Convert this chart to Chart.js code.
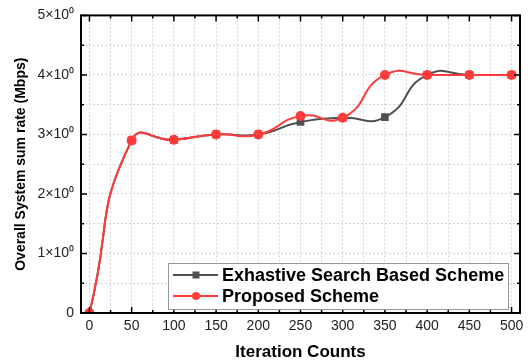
<!DOCTYPE html>
<html>
<head>
<meta charset="utf-8">
<script src="https://cdn.jsdelivr.net/npm/chart.js@4.4.0/dist/chart.umd.min.js"></script>
<style>
  html, body { margin: 0; padding: 0; background: #fff; }
  #wrap { width: 531px; height: 363px; }
</style>
</head>
<body>
<div id="wrap"><canvas id="rateChart" width="531" height="363"></canvas></div>
<script>
// iteration counts (x values)
const iterations = [0, 50, 100, 150, 200, 250, 300, 350, 400, 450, 500];
// sum rate values
const exhaustiveRate = [0, 2.9, 2.91, 3.0, 3.0, 3.21, 3.28, 3.29, 4.0, 4.0, 4.0];
const proposedRate = [0, 2.9, 2.91, 3.0, 3.0, 3.31, 3.28, 4.0, 4.0, 4.0, 4.0];
const seriesNames = ["Exhastive Search Based Scheme", "Proposed Scheme"];
const xTicks = [0, 50, 100, 150, 200, 250, 300, 350, 400, 450, 500];
const yTicks = [0, 1, 2, 3, 4, 5];

const FONT = "'Liberation Sans', Arial, sans-serif";
const GRAY = "#505050";
const RED = "#ff3b3b";

function toPoints(ys) {
  return iterations.map((x, i) => ({ x: x, y: ys[i] }));
}

// frame with inward ticks on all four sides + legend box in the corner
const framePlugin = {
  id: "frame",
  afterDatasetsDraw(chart) {
    const { ctx, chartArea: a, scales } = chart;
    const xs = scales.x, ys = scales.y;
    ctx.save();
    ctx.strokeStyle = "#000";
    ctx.lineWidth = 2;
    ctx.strokeRect(a.left, a.top, a.right - a.left, a.bottom - a.top);
    ctx.lineWidth = 1.5;
    ctx.beginPath();
    for (let v = 0; v <= 500; v += 25) {
      const px = xs.getPixelForValue(v);
      const len = v % 50 === 0 ? 6 : 3;
      ctx.moveTo(px, a.bottom); ctx.lineTo(px, a.bottom - len);
      ctx.moveTo(px, a.top); ctx.lineTo(px, a.top + len);
    }
    for (let v = 0; v <= 5; v += 0.5) {
      const py = ys.getPixelForValue(v);
      const len = Number.isInteger(v) ? 6 : 3;
      ctx.moveTo(a.left, py); ctx.lineTo(a.left + len, py);
      ctx.moveTo(a.right, py); ctx.lineTo(a.right - len, py);
    }
    ctx.stroke();

    // legend
    const lx = 168, ly = 263, lw = 340, lh = 46;
    ctx.fillStyle = "#fff";
    ctx.fillRect(lx, ly, lw, lh);
    ctx.strokeStyle = "#999";
    ctx.lineWidth = 1;
    ctx.strokeRect(lx + 0.5, ly + 0.5, lw, lh);
    const rows = [
      { name: seriesNames[0], color: GRAY, shape: "rect" },
      { name: seriesNames[1], color: RED, shape: "circle" }
    ];
    ctx.font = "bold 18px " + FONT;
    ctx.textBaseline = "middle";
    rows.forEach((r, i) => {
      const cy = ly + 12 + i * 21;
      ctx.strokeStyle = r.color;
      ctx.lineWidth = 2;
      ctx.beginPath();
      ctx.moveTo(lx + 5, cy); ctx.lineTo(lx + 50, cy);
      ctx.stroke();
      ctx.fillStyle = r.color;
      if (r.shape === "rect") {
        ctx.fillRect(lx + 28 - 3.5, cy - 3.5, 7, 7);
      } else {
        ctx.beginPath();
        ctx.arc(lx + 28, cy, 4, 0, Math.PI * 2);
        ctx.fill();
      }
      ctx.fillStyle = "#000";
      ctx.fillText(r.name, lx + 54, cy + 1);
    });
    ctx.restore();
  }
};

const ctx = document.getElementById("rateChart").getContext("2d");

const data = {
  datasets: [
    {
      label: seriesNames[1],
      data: toPoints(proposedRate),
      borderColor: RED,
      backgroundColor: RED,
      borderWidth: 2,
      pointStyle: "circle",
      pointRadius: 4,
      tension: 0.55,
      order: 0
    },
    {
      label: seriesNames[0],
      data: toPoints(exhaustiveRate),
      borderColor: GRAY,
      backgroundColor: GRAY,
      borderWidth: 2,
      pointStyle: "rect",
      pointRadius: 4,
      tension: 0.55,
      order: 1
    }
  ]
};

const gridStyle = {
  color: "#d4d4d4",
  lineWidth: 1,
  drawTicks: false
};

const config = {
  type: "line",
  data: data,
  options: {
    responsive: false,
    animation: false,
    layout: { padding: { top: 11, right: 11, left: 0, bottom: 0 } },
    plugins: {
      legend: { display: false },
      tooltip: { enabled: false }
    },
    scales: {
      x: {
        type: "linear",
        min: -10,
        max: 510,
        border: { display: false, dash: [2, 2] },
        grid: gridStyle,
        afterBuildTicks(scale) {
          const t = [];
          for (let v = 0; v <= 500; v += 25) t.push({ value: v });
          scale.ticks = t;
        },
        afterFit(scale) { scale.height = 50; },
        ticks: {
          autoSkip: false,
          maxRotation: 0,
          padding: 5,
          color: "#222",
          font: { family: FONT, size: 14 },
          callback: (v) => (xTicks.includes(v) ? String(v) : "")
        },
        title: {
          display: true,
          text: "Iteration Counts",
          color: "#000",
          padding: { top: 0, bottom: 0 },
          font: { family: FONT, size: 17, weight: "bold" }
        }
      },
      y: {
        type: "linear",
        min: 0,
        max: 5,
        border: { display: false, dash: [2, 2] },
        grid: gridStyle,
        afterBuildTicks(scale) {
          const t = [];
          for (let v = 0; v <= 5; v += 0.5) t.push({ value: v });
          scale.ticks = t;
        },
        afterFit(scale) { scale.width = 81; },
        ticks: {
          autoSkip: false,
          padding: 7,
          color: "#222",
          font: { family: FONT, size: 14 },
          callback: (v) => {
            if (!yTicks.includes(v)) return "";
            return v === 0 ? "0" : v + "×10⁰";
          }
        },
        title: {
          display: true,
          text: "Overall System sum rate (Mbps)",
          color: "#000",
          padding: { top: 13, bottom: 0 },
          font: { family: FONT, size: 14, weight: "bold" }
        }
      }
    }
  },
  plugins: [framePlugin]
};

const rateChart = new Chart(ctx, config);
</script>
</body>
</html>
